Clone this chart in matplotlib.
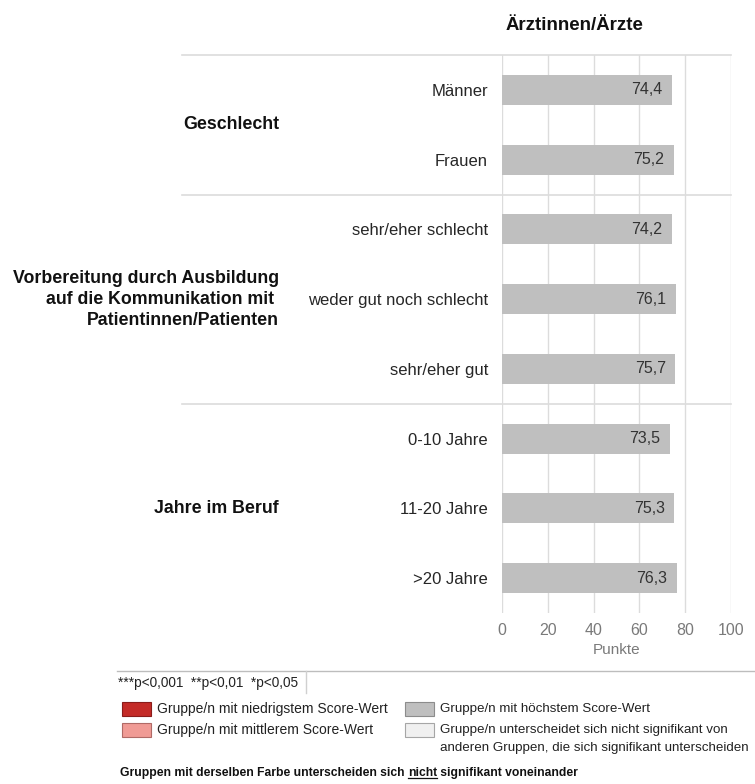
import matplotlib
matplotlib.use("Agg")
import matplotlib.pyplot as plt
from matplotlib.patches import Rectangle
from matplotlib.lines import Line2D

plt.rcParams['font.family'] = ['Liberation Sans', 'DejaVu Sans']

# data
categories = ["Männer", "Frauen",
              "sehr/eher schlecht", "weder gut noch schlecht", "sehr/eher gut",
              "0-10 Jahre", "11-20 Jahre", ">20 Jahre"]
scores = [74.4, 75.2, 74.2, 76.1, 75.7, 73.5, 75.3, 76.3]
groups = ["Geschlecht",
          "Vorbereitung durch Ausbildung\nauf die Kommunikation mit \nPatientinnen/Patienten",
          "Jahre im Beruf"]
group_sizes = [2, 3, 3]
x_ticks = [0, 20, 40, 60, 80, 100]
title = "Ärztinnen/Ärzte"
x_label = "Punkte"
footnote = "***p<0,001  **p<0,01  *p<0,05"
legend_labels = ["Gruppe/n mit niedrigstem Score-Wert",
                 "Gruppe/n mit mittlerem Score-Wert",
                 "Gruppe/n mit höchstem Score-Wert",
                 "Gruppe/n unterscheidet sich nicht signifikant von\nanderen Gruppen, die sich signifikant unterscheiden"]
legend_faces = ["#c42b27", "#f09b95", "#bfbfbf", "#f0f0f0"]
legend_edges = ["#8a1c1a", "#b06a66", "#8c8c8c", "#a6a6a6"]
bar_color = "#bfbfbf"

W, H = 755, 784
fig = plt.figure(figsize=(W / 100, H / 100), dpi=100)


def fx(x):
    return x / W


def fy(y):
    return 1 - y / H


ax = fig.add_axes([fx(502), fy(613), fx(731) - fx(502), fy(55) - fy(613)])

ypos = list(range(len(categories)))
ax.barh(ypos, scores, height=0.43, color=bar_color, zorder=2)
for y, v in zip(ypos, scores):
    ax.annotate(f"{v:.1f}".replace(".", ","), (v, y), xytext=(-7, 0),
                textcoords="offset points", ha="right", va="center",
                fontsize=11.5, color="#333333", zorder=3)

ax.set_xlim(0, 100)
ax.set_ylim(len(categories) - 0.5, -0.5)
ax.set_xticks(x_ticks)
ax.set_xticklabels([str(t) for t in x_ticks])
ax.set_yticks(ypos)
ax.set_yticklabels(categories)
ax.tick_params(axis="y", length=0, pad=10, labelsize=12, labelcolor="#262626")
ax.tick_params(axis="x", length=0, pad=7, labelsize=11.5, labelcolor="#7a7a7a")
ax.set_xlabel(x_label, fontsize=11, color="#7a7a7a", labelpad=4)
for s in ax.spines.values():
    s.set_visible(False)
ax.grid(axis="x", color="#dcdcdc", linewidth=1, zorder=0)
ax.set_axisbelow(True)

# group separators and labels
start = 0
bounds = [-0.5]
for g, n in zip(groups, group_sizes):
    center = start + (n - 1) / 2
    ax.text((279 - 502) / 229, center, g, transform=ax.get_yaxis_transform(),
            ha="right", va="center", fontsize=12.8, fontweight="bold",
            linespacing=1.3, color="#111111")
    start += n
    bounds.append(start - 0.5)
for b in bounds[:-1]:
    ax.plot([(182 - 502) / 229, 1], [b, b], transform=ax.get_yaxis_transform(),
            color="#dcdcdc", linewidth=1.2, clip_on=False, zorder=1)

fig.text(fx(575), fy(25), title, ha="center", va="center", fontsize=13.5,
         fontweight="bold", color="#111111")

# footer
fig.add_artist(Line2D([fx(117), fx(755)], [fy(671), fy(671)], color="#bdbdbd", linewidth=1))
fig.add_artist(Line2D([fx(306), fx(306)], [fy(671), fy(693)], color="#d0d0d0", linewidth=1))
fig.text(fx(118), fy(683), footnote, ha="left", va="center", fontsize=9.8, color="#222222")

leg_pos = [(122, 702), (122, 723), (405, 702), (405, 723)]
leg_size = [10, 10, 9.6, 9.6]
for label, face, edge, (lx, ly), fs in zip(legend_labels, legend_faces, legend_edges,
                                           leg_pos, leg_size):
    fig.add_artist(Rectangle((fx(lx), fy(ly + 14)), fx(29), 14 / H,
                             facecolor=face, edgecolor=edge, linewidth=0.8))
    for k, line in enumerate(label.split("\n")):
        fig.text(fx(lx + 35), fy(ly + 7 + 18 * k), line, ha="left", va="center",
                 fontsize=fs, color="#222222")

# bottom note with underlined word
parts = ["Gruppen mit derselben Farbe unterscheiden sich ", "nicht", " signifikant voneinander"]
renderer = fig.canvas.get_renderer()
x = fx(120)
for i, p in enumerate(parts):
    t = fig.text(x, fy(773), p, ha="left", va="center", fontsize=8.7, fontweight="bold",
                 color="#111111")
    bb = t.get_window_extent(renderer).transformed(fig.transFigure.inverted())
    if i == 1:
        fig.add_artist(Line2D([bb.x0, bb.x1], [bb.y0 + 0.001, bb.y0 + 0.001],
                              color="#111111", linewidth=0.9))
    x = bb.x1

fig.savefig("out.png", dpi=100)
